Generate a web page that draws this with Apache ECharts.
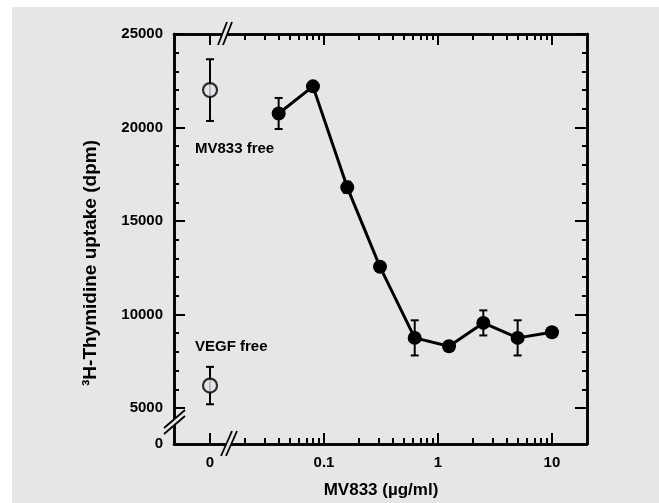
<!DOCTYPE html>
<html>
<head>
<meta charset="utf-8">
<script src="https://cdn.jsdelivr.net/npm/echarts@6/dist/echarts.min.js"></script>
<style>
  html, body { margin: 0; padding: 0; background: #fff; }
  #main { width: 659px; height: 503px; }
</style>
</head>
<body>
<div id="main"></div>
<script>
// MV833 dose series (µg/ml) vs 3H-thymidine uptake (dpm), mean and error
var concentrations = [0.04, 0.08, 0.16, 0.31, 0.625, 1.25, 2.5, 5, 10];
var uptake = [20750, 22200, 16800, 12550, 8750, 8300, 9550, 8750, 9050];
var uptakeErr = [830, 0, 300, 150, 940, 0, 670, 940, 150];

// controls, plotted at "0" on the broken x axis
var controlNames = ['MV833 free', 'VEGF free'];
var controlUptake = [22000, 6200];
var controlErr = [1650, 1000];

var xLabelValues = [0, 0.1, 1, 10];
var yLabelValues = [0, 5000, 10000, 15000, 20000, 25000];

// where the broken parts of the axes sit
var ZERO_X = 0.01;     // "0" drawn one decade below 0.1
var ZERO_Y = 3075;     // "0" drawn just under the y break
var X_MIN = 0.00483, X_MAX = 20.3;
var Y_MIN = ZERO_Y, Y_MAX = 25000;

var BG = '#e5e6e8';
var FONT = '"Liberation Sans", Arial, sans-serif';

function xPos(v) { return v === 0 ? ZERO_X : v; }
function yPos(v) { return v === 0 ? ZERO_Y : v; }

var xMajor = xLabelValues.map(xPos);
var xMinor = [];
[0.01, 0.1, 1].forEach(function (d) {
  for (var k = 2; k <= 9; k++) xMinor.push(+(d * k).toPrecision(3));
});
var yMajor = yLabelValues.filter(function (v) { return v > 0; });
var yMinor = [];
for (var v = 6000; v < 25000; v += 1000) if (v % 5000) yMinor.push(v);

var mainPts = concentrations.map(function (c, i) { return [c, uptake[i]]; });
var ctrlPts = controlUptake.map(function (u) { return [ZERO_X, u]; });
var errData = [];
concentrations.forEach(function (c, i) {
  if (uptakeErr[i] > 0) errData.push([c, uptake[i] - uptakeErr[i], uptake[i] + uptakeErr[i]]);
});
controlUptake.forEach(function (u, i) {
  errData.push([ZERO_X, u - controlErr[i], u + controlErr[i]]);
});

function fmtX(v) {
  if (v < 0.05) return '0';
  return String(+(+v).toPrecision(3));
}
function fmtY(v) {
  return v < 4000 ? '0' : String(Math.round(v));
}

var lineStyle = { color: '#000', width: 2.5 };
var labelStyle = { color: '#000', fontFamily: FONT, fontWeight: 'bold', fontSize: 15 };

function xAx(pos, ticks, len, labels) {
  return {
    type: 'log', logBase: 10, min: X_MIN, max: X_MAX, position: pos,
    axisLine: { show: true, lineStyle: lineStyle },
    axisTick: { show: true, inside: true, length: len, customValues: ticks, lineStyle: { color: '#000', width: 2 } },
    axisLabel: labels ? Object.assign({ show: true, margin: 11, customValues: xMajor, formatter: fmtX }, labelStyle) : { show: false },
    splitLine: { show: false }, minorTick: { show: false }
  };
}
function yAx(pos, ticks, len, labels) {
  return {
    type: 'value', min: Y_MIN, max: Y_MAX, position: pos,
    axisLine: { show: true, lineStyle: lineStyle },
    axisTick: { show: true, inside: true, length: len, customValues: ticks, lineStyle: { color: '#000', width: 2 } },
    axisLabel: labels ? Object.assign({ show: true, margin: 11, customValues: yLabelValues.map(yPos), formatter: fmtY }, labelStyle) : { show: false },
    splitLine: { show: false }
  };
}

function errorBar(params, api) {
  var lo = api.coord([api.value(0), api.value(1)]);
  var hi = api.coord([api.value(0), api.value(2)]);
  var cap = 4;
  var st = { stroke: '#000', lineWidth: 2 };
  return {
    type: 'group',
    children: [
      { type: 'line', shape: { x1: lo[0], y1: lo[1], x2: hi[0], y2: hi[1] }, style: st },
      { type: 'line', shape: { x1: lo[0] - cap, y1: lo[1], x2: lo[0] + cap, y2: lo[1] }, style: st },
      { type: 'line', shape: { x1: hi[0] - cap, y1: hi[1], x2: hi[0] + cap, y2: hi[1] }, style: st }
    ]
  };
}

// axis break marks: background gap plus two slashes
function breakMark(x1, y1, x2, y2, dx, dy) {
  var st = { stroke: '#000', lineWidth: 1.8 };
  return [
    { type: 'polygon', z: 100, shape: { points: [[x1, y1], [x2, y2], [x2 + dx, y2 + dy], [x1 + dx, y1 + dy]] }, style: { fill: BG } },
    { type: 'line', z: 101, shape: { x1: x1, y1: y1, x2: x2, y2: y2 }, style: st },
    { type: 'line', z: 101, shape: { x1: x1 + dx, y1: y1 + dy, x2: x2 + dx, y2: y2 + dy }, style: st }
  ];
}

var chart = echarts.init(document.getElementById('main'));
chart.setOption({
  animation: false,
  backgroundColor: '#fff',
  grid: { left: 174, right: 72, top: 34, bottom: 59, containLabel: false, outerBoundsMode: 'none' },
  xAxis: [
    xAx('bottom', xMajor, 11, true),
    xAx('bottom', xMinor, 6, false),
    xAx('top', xMajor, 11, false),
    xAx('top', xMinor, 6, false)
  ],
  yAxis: [
    yAx('left', yMajor, 11, true),
    yAx('left', yMinor, 5, false),
    yAx('right', yMajor, 12, false),
    yAx('right', yMinor, 5, false)
  ],
  graphic: [
    { type: 'rect', z: -10, silent: true, shape: { x: 12, y: 7, width: 647, height: 496 }, style: { fill: BG } },
    { type: 'text', x: 195, y: 149, style: { text: controlNames[0], fill: '#000', font: 'bold 15px ' + FONT, verticalAlign: 'middle' } },
    { type: 'text', x: 195, y: 347, style: { text: controlNames[1], fill: '#000', font: 'bold 15px ' + FONT, verticalAlign: 'middle' } },
    { type: 'text', x: 381, y: 490, style: { text: 'MV833 (µg/ml)', fill: '#000', font: 'bold 17px ' + FONT, align: 'center', verticalAlign: 'middle' } },
    { type: 'text', x: 91, y: 263, rotation: Math.PI / 2, style: { text: '³H-Thymidine uptake (dpm)', fill: '#000', font: 'bold 19px ' + FONT, align: 'center', verticalAlign: 'middle' } }
  ].concat(
    breakMark(221, 456, 232, 431, 5, 0),
    breakMark(218, 45, 227, 22, 5, 0),
    breakMark(164, 434, 185, 416, 0, -6)
  ),
  series: [
    {
      type: 'custom', renderItem: errorBar, data: errData,
      encode: { x: 0, y: [1, 2] }, z: 3, silent: true
    },
    {
      type: 'line', data: mainPts, symbol: 'circle', symbolSize: 14,
      lineStyle: { color: '#000', width: 3 }, itemStyle: { color: '#000' }, z: 4
    },
    {
      type: 'scatter', data: ctrlPts, symbol: 'circle', symbolSize: 14,
      itemStyle: { color: BG, borderColor: '#000', borderWidth: 2.2 }, z: 5
    }
  ]
});
</script>
</body>
</html>
